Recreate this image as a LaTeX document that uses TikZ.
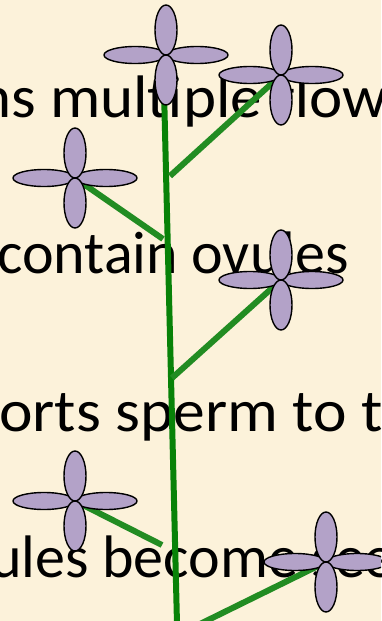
\documentclass[tikz,border=0pt]{standalone}
\usepackage{fontspec}
\setmainfont{Carlito}
\definecolor{parchment}{HTML}{FCF2DA}
\definecolor{stemgreen}{RGB}{8,130,8}
\definecolor{branchgreen}{RGB}{34,140,34}
\definecolor{petal}{HTML}{B3A2C8}
\tikzset{
  linetext/.style={anchor=base west, inner sep=0pt, font=\fontsize{60}{72}\selectfont, text=black},
  stemline/.style={draw=stemgreen, line width=6pt},
  branchline/.style={draw=branchgreen, line width=6pt},
  petalshape/.style={fill=petal, draw=black, line width=1.4pt},
}
% a four-petal flower centred at coordinate #1
\newcommand{\flowerat}[1]{%
  \begin{scope}[shift={(#1)}]
    \path[petalshape] (-31,0) ellipse [x radius=31, y radius=8.5];
    \path[petalshape] (31,0) ellipse [x radius=31, y radius=8.5];
    \path[petalshape] (0,-25) ellipse [x radius=11, y radius=25];
    \path[petalshape] (0,25) ellipse [x radius=11, y radius=25];
  \end{scope}}
\begin{document}
\begin{tikzpicture}[x=1pt,y=-1pt]
  \useasboundingbox (0,0) rectangle (381,621);
  \clip (0,0) rectangle (381,621);
  \fill[parchment] (0,0) rectangle (381,621);

  % text lines
  \node[linetext, xscale=1.05] (l1) at (-22,117) {ns multiple flow};
  \node[linetext] (l2) at (-3,273) {contain ovules};
  \node[linetext, xscale=1.06] (l3) at (-1,431) {orts sperm to t};
  \node[linetext] (l4) at (-10,577) {ules become see};

  % flower centres
  \coordinate (f1) at (166,55);
  \coordinate (f2) at (281,75);
  \coordinate (f3) at (75,178);
  \coordinate (f4) at (281,280);
  \coordinate (f5) at (75,501);
  \coordinate (f6) at (326,562);

  % stem and branches
  \coordinate (stemtop) at (164,90);
  \coordinate (stembot) at (177,624);
  \draw[stemline] (stemtop) -- (stembot);
  \coordinate (b1) at (170,176);
  \coordinate (b2) at (163,239);
  \coordinate (b3) at (172,378);
  \coordinate (b4) at (162,545);
  \coordinate (b5) at (200,624);
  \draw[branchline] (b1) -- (f2);
  \draw[branchline] (b2) -- (f3);
  \draw[branchline] (b3) -- (f4);
  \draw[branchline] (b4) -- (f5);
  \draw[branchline] (b5) -- (f6);

  % flowers
  \flowerat{f1}
  \flowerat{f2}
  \flowerat{f3}
  \flowerat{f4}
  \flowerat{f5}
  \flowerat{f6}
\end{tikzpicture}
\end{document}
